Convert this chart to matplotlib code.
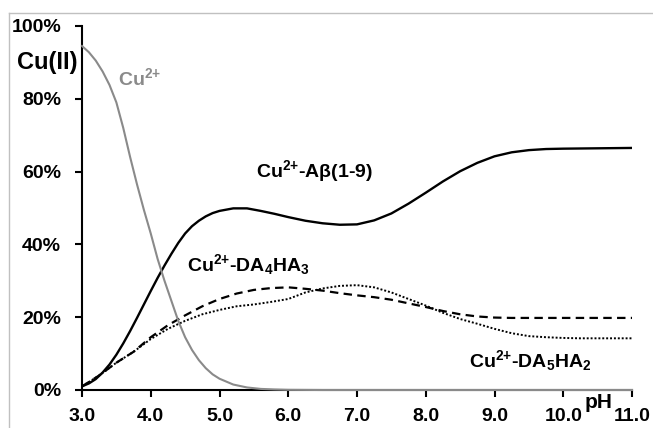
import matplotlib
matplotlib.use("Agg")
import matplotlib.pyplot as plt
from matplotlib.lines import Line2D

# ---------------- data ----------------
# free Cu2+ (grey curve)
ph_free = [3.0, 3.1, 3.2, 3.3, 3.4, 3.5, 3.6, 3.7, 3.8, 3.9, 4.0, 4.1, 4.2, 4.3,
           4.4, 4.5, 4.6, 4.7, 4.8, 4.9, 5.0, 5.2, 5.4, 5.6, 5.8, 6.0, 6.5, 11.0]
cu_free = [94.5, 92.8, 90.5, 87.5, 83.8, 79, 72, 64, 56.5, 49.5, 43, 36, 30, 24.5,
           19, 14.5, 11, 8.2, 6, 4.3, 3.1, 1.5, 0.7, 0.3, 0.15, 0.05, 0, 0]

# Cu2+-Abeta(1-9) (solid black)
ph_abeta = [3.0, 3.1, 3.2, 3.3, 3.4, 3.5, 3.6, 3.7, 3.8, 3.9, 4.0, 4.1, 4.2, 4.3,
            4.4, 4.5, 4.6, 4.7, 4.8, 4.9, 5.0, 5.2, 5.4, 5.6, 5.8, 6.0, 6.25, 6.5,
            6.75, 7.0, 7.25, 7.5, 7.75, 8.0, 8.25, 8.5, 8.75, 9.0, 9.25, 9.5, 9.75,
            10.0, 10.5, 11.0]
cu_abeta = [1, 1.8, 3, 4.8, 7, 9.7, 12.8, 16.2, 19.8, 23.5, 27.2, 30.8, 34.2, 37.4,
            40.4, 43, 45, 46.5, 47.7, 48.6, 49.2, 49.9, 49.9, 49.2, 48.4, 47.5, 46.5, 45.8,
            45.4, 45.5, 46.6, 48.5, 51.2, 54.2, 57.3, 60.1, 62.4, 64.2, 65.3, 65.9, 66.2,
            66.3, 66.4, 66.5]

# Cu2+-DA4HA3 (dashed) and Cu2+-DA5HA2 (dotted)
ph = [3.0, 3.25, 3.5, 3.75, 4.0, 4.25, 4.5, 4.75, 5.0, 5.25, 5.5, 5.75,
      6.0, 6.25, 6.5, 6.75, 7.0, 7.25, 7.5, 7.75, 8.0, 8.25, 8.5, 8.75,
      9.0, 9.25, 9.5, 9.75, 10.0, 10.25, 10.5, 10.75, 11.0]

cu_da4ha3 = [1, 4, 7.5, 10.5, 14.5, 17.8, 20.5, 23, 25, 26.5, 27.5, 28,
             28.2, 27.8, 27.3, 26.6, 26, 25.5, 24.8, 23.8, 22.8, 21.7, 20.8, 20.2,
             19.9, 19.8, 19.8, 19.8, 19.8, 19.8, 19.8, 19.8, 19.8]

cu_da5ha2 = [1, 4, 7.5, 10.5, 14, 16.8, 19, 20.8, 22, 23, 23.5, 24.2,
             25, 26.8, 27.9, 28.6, 28.8, 28.2, 26.8, 25, 23.2, 21.2, 19.5, 18.2,
             16.8, 15.6, 14.8, 14.5, 14.3, 14.2, 14.2, 14.2, 14.2]

x_ticks = [3, 4, 5, 6, 7, 8, 9, 10, 11]
x_ticklabels = ["3.0", "4.0", "5.0", "6.0", "7.0", "8.0", "9.0", "10.0", "11.0"]
y_ticks = [0, 20, 40, 60, 80, 100]
y_ticklabels = ["0%", "20%", "40%", "60%", "80%", "100%"]

# ---------------- style ----------------
plt.rcParams['font.family'] = ['Liberation Sans', 'DejaVu Sans']
plt.rcParams['font.weight'] = 'bold'
plt.rcParams['mathtext.fontset'] = 'custom'
plt.rcParams['mathtext.rm'] = 'Liberation Sans:bold'
plt.rcParams['mathtext.it'] = 'Liberation Sans:bold'
plt.rcParams['mathtext.bf'] = 'Liberation Sans:bold'
plt.rcParams['mathtext.sf'] = 'Liberation Sans:bold'

W, H = 653, 428
fig = plt.figure(figsize=(W / 100, H / 100), dpi=100)


def px(x, y):
    return x / W, 1 - y / H


left, right, top, bottom = 82, 632, 26, 390
ax = fig.add_axes([left / W, 1 - bottom / H, (right - left) / W, (bottom - top) / H])

gray = '#8a8a8a'
ax.plot(ph_abeta, cu_abeta, color='black', lw=1.7, zorder=2)
ax.plot(ph, cu_da4ha3, color='black', lw=1.6, linestyle=(0, (3.8, 2.4)), zorder=2)
ax.plot(ph, cu_da5ha2, color='black', lw=1.4, linestyle=(0, (1, 1.0)), zorder=2)
ax.plot(ph_free, cu_free, color=gray, lw=1.5, zorder=3, clip_on=False)

ax.set_xlim(3, 11)
ax.set_ylim(0, 100)
ax.set_xticks(x_ticks)
ax.set_xticklabels(x_ticklabels)
ax.set_yticks(y_ticks)
ax.set_yticklabels(y_ticklabels)

for s in ['top', 'right']:
    ax.spines[s].set_visible(False)
for s in ['left', 'bottom']:
    ax.spines[s].set_linewidth(1.5)
    ax.spines[s].set_color('black')

ax.tick_params(axis='both', direction='out', length=5, width=1.5, color='black')
ax.tick_params(axis='y', pad=10, labelsize=14)
ax.tick_params(axis='x', pad=8, labelsize=14)
for lab in ax.get_xticklabels() + ax.get_yticklabels():
    lab.set_fontweight('bold')

# ---------------- texts ----------------
fig.text(*px(47, 63), 'Cu(II)', fontsize=17, fontweight='bold', ha='center', va='center')
fig.text(*px(118, 85), r'Cu$^{2{+}}$', fontsize=14, fontweight='bold', color=gray,
         ha='left', va='baseline')
fig.text(*px(256, 177), r'Cu$^{2{+}}$-Aβ(1-9)', fontsize=14, fontweight='bold',
         ha='left', va='baseline')
fig.text(*px(187, 271), r'Cu$^{2{+}}$-DA$_4$HA$_3$', fontsize=14, fontweight='bold',
         ha='left', va='baseline')
fig.text(*px(469, 367), r'Cu$^{2{+}}$-DA$_5$HA$_2$', fontsize=14, fontweight='bold',
         ha='left', va='baseline')
fig.text(*px(585, 408), 'pH', fontsize=15, fontweight='bold', ha='left', va='baseline')

# light outer frame (chart area border)
fig.add_artist(Line2D([9 / W, 9 / W], [0, 1 - 13 / H], color='#c0c0c0', lw=1))
fig.add_artist(Line2D([9 / W, 1], [1 - 13 / H, 1 - 13 / H], color='#c0c0c0', lw=1))

fig.savefig('out.png', dpi=100)
